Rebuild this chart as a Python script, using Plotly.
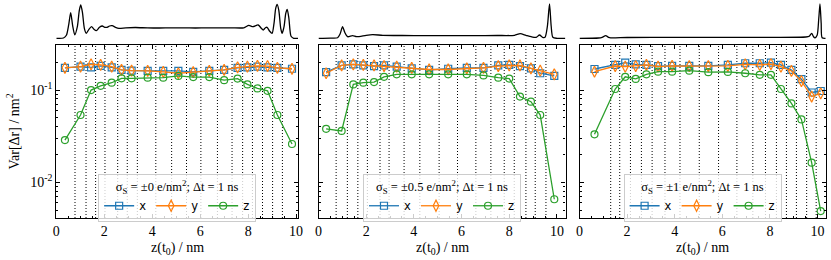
import plotly.graph_objects as go

# ---------------- data ----------------
# panel 1: sigma_S = ±0
z1 = [0.36, 1.01, 1.45, 1.85, 2.31, 2.72, 3.14, 3.81, 4.46, 5.09, 5.71, 6.38, 7.00, 7.56, 7.97, 8.39, 8.81, 9.22, 9.83]
vx1 = [0.174, 0.179, 0.176, 0.183, 0.176, 0.165, 0.162, 0.161, 0.161, 0.161, 0.157, 0.161, 0.165, 0.174, 0.176, 0.179, 0.176, 0.174, 0.170]
vy1 = [0.174, 0.179, 0.190, 0.187, 0.179, 0.165, 0.162, 0.161, 0.157, 0.152, 0.156, 0.161, 0.165, 0.176, 0.179, 0.183, 0.182, 0.174, 0.170]
vz1 = [0.0287, 0.0536, 0.100, 0.111, 0.120, 0.134, 0.134, 0.136, 0.136, 0.142, 0.138, 0.138, 0.128, 0.133, 0.115, 0.104, 0.098, 0.0536, 0.026]
edges1 = [0.78, 1.24, 1.64, 2.03, 2.56, 2.96, 3.38, 4.15, 4.81, 5.43, 6.03, 6.72, 7.33, 7.77, 8.18, 8.60, 9.02, 9.43]
dens_z1 = [0.0, 0.3, 0.42, 0.52, 0.60, 0.68, 0.77, 0.88, 0.96, 1.02, 1.09, 1.17, 1.25, 1.36, 1.47, 1.57, 1.67, 1.80, 1.92, 2.02, 2.12, 2.22, 2.33, 2.47, 2.61, 2.9, 3.3, 3.8, 4.3, 4.8, 5.3, 5.8, 6.3, 6.8, 7.3, 7.82, 8.03, 8.20, 8.42, 8.55, 8.63, 8.72, 8.79, 8.90, 9.00, 9.08, 9.15, 9.21, 9.28, 9.36, 9.42, 9.50, 9.57, 9.63, 9.70, 9.79, 9.90, 10.08]
dens_h1 = [0.0, 0.3, 3.0, 14.0, 25.6, 13.0, 3.5, 12.0, 28.0, 33.3, 26.0, 10.0, 5.0, 9.0, 11.6, 9.0, 7.6, 11.0, 12.3, 11.0, 11.0, 12.3, 12.6, 11.0, 10.0, 10.5, 10.8, 10.4, 10.3, 10.5, 10.4, 10.3, 10.5, 10.4, 10.5, 10.5, 12.9, 11.6, 13.3, 10.0, 8.3, 10.5, 11.0, 7.0, 5.0, 15.0, 30.0, 34.0, 28.0, 10.0, 5.0, 12.0, 25.0, 29.0, 20.0, 2.0, 0.0, 0.0]

# panel 2: sigma_S = ±0.5
z2 = [0.32, 0.97, 1.46, 1.88, 2.33, 2.75, 3.28, 3.91, 4.64, 5.44, 6.22, 6.92, 7.54, 8.00, 8.45, 8.91, 9.30, 9.89]
vx2 = [0.156, 0.185, 0.190, 0.185, 0.182, 0.185, 0.179, 0.172, 0.165, 0.170, 0.174, 0.174, 0.185, 0.187, 0.182, 0.172, 0.152, 0.142]
vy2 = [0.152, 0.185, 0.190, 0.187, 0.185, 0.182, 0.179, 0.174, 0.167, 0.167, 0.172, 0.174, 0.182, 0.185, 0.185, 0.172, 0.162, 0.148]
vz2 = [0.038, 0.036, 0.115, 0.120, 0.122, 0.139, 0.148, 0.148, 0.148, 0.148, 0.148, 0.144, 0.136, 0.133, 0.085, 0.0748, 0.0536, 0.00655]
edges2 = [0.74, 1.21, 1.65, 2.05, 2.58, 2.96, 3.59, 4.25, 5.06, 5.83, 6.60, 7.23, 7.79, 8.21, 8.70, 9.09, 9.54]
dens_z2 = [0.0, 0.5, 0.8, 0.9, 1.01, 1.10, 1.22, 1.43, 1.60, 2.0, 2.27, 2.7, 3.5, 4.5, 5.5, 6.5, 7.5, 8.22, 8.46, 8.70, 8.92, 9.13, 9.27, 9.40, 9.50, 9.60, 9.69, 9.76, 9.83, 10.0, 10.35]
dens_h2 = [0.0, 0.2, 0.5, 4.0, 11.6, 6.0, 1.6, 2.6, 1.6, 3.0, 3.6, 3.0, 2.8, 2.7, 2.7, 2.7, 2.8, 3.0, 4.6, 3.0, 1.6, 1.0, 3.3, 1.0, 1.0, 12.0, 34.3, 12.0, 1.0, 0.0, 0.0]

# panel 3: sigma_S = ±1
z3 = [0.63, 1.50, 1.92, 2.36, 2.81, 3.30, 3.89, 4.61, 5.41, 6.23, 6.96, 7.57, 8.04, 8.46, 8.90, 9.32, 9.75, 10.13]
vx3 = [0.169, 0.187, 0.198, 0.190, 0.187, 0.182, 0.183, 0.183, 0.183, 0.187, 0.195, 0.195, 0.198, 0.187, 0.165, 0.131, 0.094, 0.0976]
vy3 = [0.158, 0.182, 0.179, 0.182, 0.187, 0.179, 0.183, 0.182, 0.182, 0.183, 0.190, 0.187, 0.191, 0.179, 0.161, 0.125, 0.085, 0.092]
vz3 = [0.0331, 0.1026, 0.139, 0.132, 0.148, 0.158, 0.158, 0.162, 0.156, 0.157, 0.152, 0.146, 0.146, 0.1026, 0.0716, 0.048, 0.0163, 0.00488]
edges3 = [1.31, 1.69, 2.14, 2.60, 3.05, 3.59, 4.22, 5.03, 5.84, 6.61, 7.28, 7.81, 8.27, 8.69, 9.11, 9.54, 9.94]
dens_z3 = [0.0, 0.8, 0.95, 1.10, 1.22, 1.31, 2.0, 4.0, 6.0, 8.0, 9.5, 9.65, 9.75, 9.83, 9.89, 9.98, 10.05, 10.10, 10.15, 10.19, 10.34]
dens_h3 = [0.0, 0.3, 1.0, 2.6, 1.0, 0.5, 0.8, 0.9, 0.9, 1.0, 1.3, 2.0, 5.0, 1.5, 0.5, 3.0, 20.0, 34.3, 15.0, 0.5, 0.0]

titles = ["σ<sub>S</sub> = ±0 e/nm<sup>2</sup>; Δt = 1 ns",
          "σ<sub>S</sub> = ±0.5 e/nm<sup>2</sup>; Δt = 1 ns",
          "σ<sub>S</sub> = ±1 e/nm<sup>2</sup>; Δt = 1 ns"]
xlabel = "z(t<sub>0</sub>) / nm"
ylabel = "Var[Δr] / nm<sup>2</sup>"
ytick_vals = [0.01, 0.1]
ytick_text = ["10<sup>-2</sup>", "10<sup>-1</sup>"]

# ---------------- styling / layout ----------------
W, H = 831, 260
SERIF = "Liberation Serif, DejaVu Serif, serif"
SANS = "DejaVu Sans, sans-serif"
COLORS = {"x": "#1f77b4", "y": "#ff7f0e", "z": "#2ca02c"}
SYMBOLS = {"x": "square-open", "y": "diamond-tall-open", "z": "circle-open"}
MSIZE = {"x": 7, "y": 8, "z": 7}

px_dom = [(56.3, 298.0), (318.5, 565.5), (579.5, 825.7)]
xmax = [10.08, 10.36, 10.34]
ylog = [-2.387, -0.512]
main_ydom = [1 - 218 / H, 1 - 45 / H]
dens_ydom = [1 - 39.3 / H, 1 - 2 / H]

panels = [
    (z1, vx1, vy1, vz1, edges1, dens_z1, dens_h1),
    (z2, vx2, vy2, vz2, edges2, dens_z2, dens_h2),
    (z3, vx3, vy3, vz3, edges3, dens_z3, dens_h3),
]

fig = go.Figure()
layout = dict(width=W, height=H, margin=dict(l=0, r=0, t=0, b=0, autoexpand=False),
              paper_bgcolor="white", plot_bgcolor="rgba(0,0,0,0)",
              showlegend=True, shapes=[], annotations=[])

minor_y = [m * 10 ** e for e in (-3, -2, -1) for m in range(2, 10)]

for i, (zz, vx, vy, vz, edges, dz, dh) in enumerate(panels):
    n = i + 1
    xa = "x" if n == 1 else f"x{n}"
    ya = "y" if n == 1 else f"y{n}"
    xd = f"x{n + 3}"
    yd = f"y{n + 3}"
    leg = "legend" if n == 1 else f"legend{n}"
    dom = [px_dom[i][0] / W, px_dom[i][1] / W]

    for key, vals in (("x", vx), ("y", vy), ("z", vz)):
        fig.add_trace(go.Scatter(
            x=zz, y=vals, mode="lines+markers", name=key,
            line=dict(color=COLORS[key], width=1.3),
            marker=dict(symbol=SYMBOLS[key], size=MSIZE[key], color=COLORS[key],
                        line=dict(width=1.2, color=COLORS[key])),
            xaxis=xa, yaxis=ya, legend=leg, cliponaxis=True))

    fig.add_trace(go.Scatter(
        x=dz, y=dh, mode="lines", line=dict(color="black", width=1.3, shape="spline", smoothing=0.7),
        xaxis=xd, yaxis=yd, showlegend=False, hoverinfo="skip"))

    axkey = "xaxis" if n == 1 else f"xaxis{n}"
    aykey = "yaxis" if n == 1 else f"yaxis{n}"
    layout[axkey] = dict(
        domain=dom, range=[0, xmax[i]], anchor=ya, automargin=False,
        showline=True, linecolor="black", linewidth=1.3, mirror="allticks",
        ticks="inside", ticklen=4, tickwidth=1, tickcolor="black",
        tick0=0, dtick=2, showgrid=False, zeroline=False,
        tickfont=dict(family=SERIF, size=14, color="black"),
        minor=dict(ticks="inside", ticklen=2, tickwidth=0.8, tickcolor="black", dtick=0.5, showgrid=False))
    layout[aykey] = dict(
        domain=main_ydom, type="log", range=ylog, anchor=xa, automargin=False,
        showline=True, linecolor="black", linewidth=1.3, mirror="allticks",
        ticks="inside", ticklen=4, tickwidth=1, tickcolor="black",
        tickmode="array", tickvals=ytick_vals, ticktext=ytick_text,
        showgrid=False, zeroline=False,
        showticklabels=(n == 1),
        tickfont=dict(family=SERIF, size=14, color="black"),
        minor=dict(ticks="inside", ticklen=2, tickwidth=0.8, tickcolor="black",
                   tickmode="array", tickvals=minor_y, showgrid=False))
    layout[f"xaxis{n + 3}"] = dict(domain=dom, range=[0, xmax[i]], anchor=yd, visible=False, automargin=False)
    layout[f"yaxis{n + 3}"] = dict(domain=dens_ydom, range=[-1, 36.3], anchor=xd, visible=False, automargin=False)

    for e in edges:
        layout["shapes"].append(dict(type="line", xref=xa, yref=f"{ya} domain",
                                     x0=e, x1=e, y0=0, y1=1, layer="below",
                                     line=dict(color="black", width=1, dash="1px,2px")))

    cx = (dom[0] + dom[1]) / 2
    layout[leg] = dict(
        x=cx, xanchor="center", y=1 - 222 / H, yanchor="bottom",
        orientation="h", bgcolor="rgba(255,255,255,0.8)",
        bordercolor="#cccccc", borderwidth=1,
        font=dict(family=SANS, size=11.5, color="black"),
        title=dict(text=titles[i], side="top center", font=dict(family=SERIF, size=12.5, color="black")),
        itemwidth=30, entrywidth=7, tracegroupgap=0)

    layout["annotations"].append(dict(
        text=xlabel, x=cx, y=1 - 248 / H, xref="paper", yref="paper",
        xanchor="center", yanchor="middle", showarrow=False,
        font=dict(family=SERIF, size=14, color="black")))

layout["annotations"].append(dict(
    text=ylabel, x=13 / W, y=1 - 131.5 / H, xref="paper", yref="paper", textangle=-90,
    xanchor="center", yanchor="middle", showarrow=False,
    font=dict(family=SERIF, size=14, color="black")))

fig.update_layout(**layout)
fig.write_html("out.html", config={"displayModeBar": False},
               post_script="document.body.style.margin='0px';document.body.style.overflow='hidden';")
